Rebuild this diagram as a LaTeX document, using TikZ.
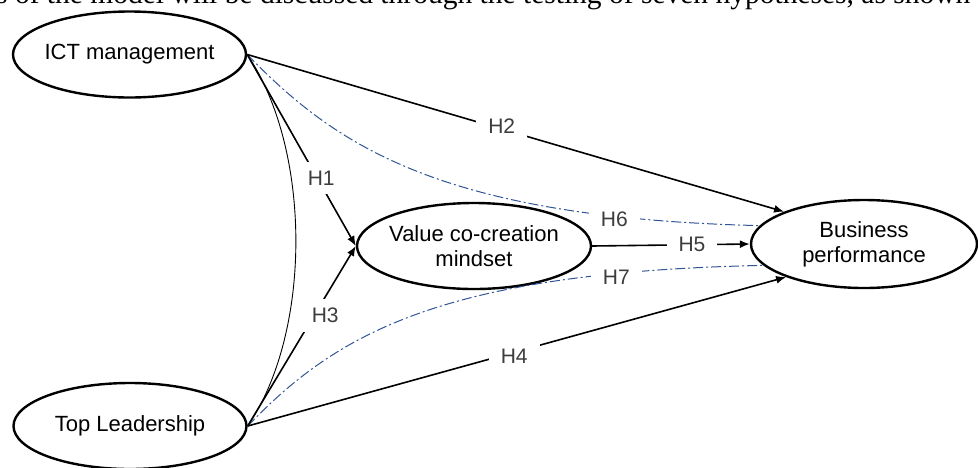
\documentclass[tikz,border=0pt]{standalone}
\usepackage{fontspec}
\setmainfont{Liberation Sans}
\newfontfamily\bodyserif{Liberation Serif}
\usetikzlibrary{shapes.geometric,arrows.meta}
\definecolor{dashblue}{RGB}{47,85,151}
\definecolor{lblgray}{RGB}{60,60,60}
\begin{document}
\begin{tikzpicture}[x=1pt,y=-1pt,
  construct/.style={draw, line width=2.4pt, ellipse, minimum width=233pt, minimum height=86pt,
    inner xsep=-30pt, inner ysep=0pt, align=center, font=\fontsize{22}{25}\selectfont},
  link/.style={line width=1.6pt, -{Latex[length=10pt,width=8pt]}},
  hyp/.style={fill=white, inner xsep=12pt, inner ysep=9pt, text=lblgray, font=\fontsize{21}{21}\selectfont},
  med/.style={dashblue, line width=1pt, dash pattern=on 10pt off 3pt on 2pt off 3pt},
  corr/.style={line width=0.9pt}
]
\useasboundingbox (0,0) rectangle (978,467);
\clip (0,0) rectangle (978,467);

\node[anchor=base west, inner sep=0pt, font=\bodyserif\fontsize{29.5}{30}\selectfont] (caption) at (-4,3.5)
  {s of the model will be discussed through the testing of seven hypotheses, as shown};

\node[construct] (ict) at (129.5,54.5) {ICT management};
\node[construct] (tl) at (130,426) {Top Leadership};
\node[construct, minimum width=234pt] (vcm) at (474,246) {Value co-creation\\mindset};
\node[construct, minimum width=226pt, minimum height=88pt] (bp) at (864,244) {Business\\performance};

% correlation
\draw[corr] (ict.east) .. controls (312,150) and (312,332) .. (tl.east);

% mediation paths
\draw[med] (ict.east) .. controls (335,145) and (440,218) .. (bp.170)
  node[hyp, pos=0.83, yshift=-3pt] (h6) {H6};
\draw[med] (tl.east) .. controls (335,335) and (440,272) .. (bp.192)
  node[hyp, pos=0.83, yshift=-4pt] (h7) {H7};

% direct paths
\draw[link] (ict.east) -- (vcm.west) node[hyp, pos=0.645, xshift=4pt] (h1) {H1};
\draw[link] (ict.east) -- (bp.158) node[hyp, pos=0.474, yshift=3pt] (h2) {H2};
\draw[link] (tl.east) -- (vcm.west) node[hyp, pos=0.643, xshift=8pt, yshift=-5pt] (h3) {H3};
\draw[link] (tl.east) -- (bp.203) node[hyp, pos=0.495, yshift=-4pt] (h4) {H4};
\draw[link] (vcm.east) -- (bp.west) node[hyp, pos=0.633] (h5) {H5};
\end{tikzpicture}
\end{document}
